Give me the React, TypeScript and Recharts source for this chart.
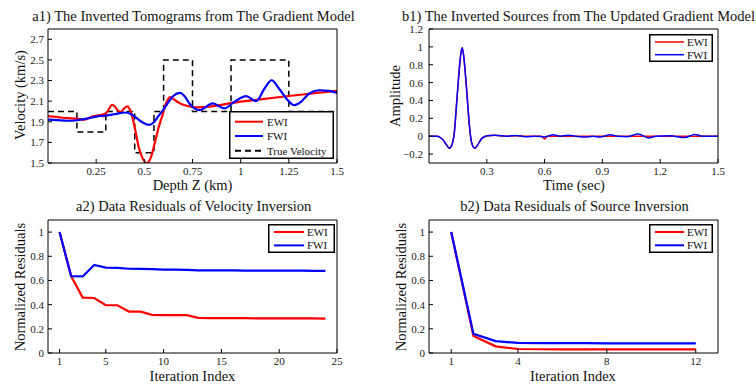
import React from 'react';
import { LineChart, Line, XAxis, YAxis, Legend } from 'recharts';

const FONT = '"Liberation Serif", "Times New Roman", Times, serif';

// ---------- a1) velocity profiles ----------
const trueDepth = [0, 0.15, 0.15, 0.3, 0.3, 0.45, 0.45, 0.55, 0.55, 0.6, 0.6, 0.75, 0.75, 0.95, 0.95, 1.25, 1.25, 1.5];
const trueVel = [2.0, 2.0, 1.8, 1.8, 2.0, 2.0, 1.6, 1.6, 2.0, 2.0, 2.5, 2.5, 2.0, 2.0, 2.5, 2.5, 2.0, 2.0];

const ewiDepth = [0, 0.05, 0.1, 0.15, 0.19, 0.23, 0.27, 0.3, 0.315, 0.333, 0.348, 0.362, 0.378, 0.395, 0.412, 0.427, 0.44, 0.455, 0.47, 0.49, 0.513, 0.535, 0.555, 0.575, 0.595, 0.615, 0.635, 0.655, 0.68, 0.71, 0.745, 0.775, 1.0, 1.25, 1.5];
const ewiVel = [1.955, 1.945, 1.935, 1.93, 1.92, 1.95, 1.965, 1.98, 2.02, 2.065, 2.045, 2.01, 1.995, 2.03, 2.05, 2.01, 1.93, 1.8, 1.66, 1.55, 1.5, 1.56, 1.7, 1.85, 1.97, 2.09, 2.14, 2.115, 2.085, 2.06, 2.045, 2.04, 2.095, 2.15, 2.2];

const fwiDepth = [0, 0.05, 0.1, 0.15, 0.2, 0.25, 0.3, 0.35, 0.4, 0.43, 0.46, 0.49, 0.525, 0.55, 0.575, 0.6, 0.625, 0.65, 0.685, 0.71, 0.735, 0.76, 0.786, 0.855, 0.915, 0.967, 1.028, 1.08, 1.123, 1.161, 1.2, 1.244, 1.279, 1.313, 1.356, 1.408, 1.46, 1.5];
const fwiVel = [1.92, 1.915, 1.91, 1.915, 1.93, 1.95, 1.96, 1.975, 1.99, 1.975, 1.935, 1.895, 1.87, 1.895, 1.96, 2.02, 2.09, 2.15, 2.18, 2.145, 2.075, 2.03, 2.013, 2.078, 2.03, 2.093, 2.148, 2.1, 2.22, 2.303, 2.22, 2.11, 2.061, 2.093, 2.174, 2.206, 2.2, 2.18];

// ---------- b1) source wavelets ----------
const srcTime = [0, 0.042, 0.072, 0.092, 0.106, 0.12, 0.132, 0.14, 0.148, 0.156, 0.164, 0.172, 0.18, 0.188, 0.196, 0.204, 0.212, 0.222, 0.238, 0.252, 0.272, 0.302, 0.34, 0.4, 0.45, 0.5, 0.55, 0.585, 0.6, 0.615, 0.645, 0.68, 0.722, 0.76, 0.81, 0.85, 0.887, 0.94, 0.98, 1.03, 1.086, 1.138, 1.18, 1.25, 1.328, 1.38, 1.42, 1.5];
const srcEwi = [0, 0, -0.04, -0.1, -0.135, -0.09, 0.05, 0.27, 0.5, 0.72, 0.9, 0.99, 0.9, 0.72, 0.5, 0.27, 0.07, -0.08, -0.135, -0.1, -0.03, 0.005, 0.01, 0.0, 0.005, 0.0, 0.0, 0.0, -0.03, 0.0, 0.0, 0.0, 0.0, 0.0, 0.0, 0.0, 0.0, 0.0, 0.0, 0.0, 0.0, 0.0, 0.0, 0.0, 0.0, 0.0, 0.0, 0.0];
const srcFwi = [0, 0, -0.04, -0.1, -0.135, -0.09, 0.05, 0.27, 0.5, 0.72, 0.9, 0.99, 0.9, 0.72, 0.5, 0.27, 0.07, -0.08, -0.135, -0.1, -0.03, 0.005, 0.01, 0.0, 0.008, -0.005, 0.0, -0.005, -0.008, 0.0, 0.015, 0.0, 0.01, 0.0, -0.01, 0.0, -0.01, 0.015, 0.0, -0.005, 0.025, -0.02, 0.0, 0.005, -0.015, 0.02, 0.0, 0.0];

// ---------- a2) velocity inversion residuals ----------
const velIter = [1, 2, 3, 4, 5, 6, 7, 8, 9, 10, 11, 12, 13, 14, 15, 16, 17, 18, 19, 20, 21, 22, 23, 24];
const velEwi = [1.0, 0.636, 0.458, 0.455, 0.396, 0.395, 0.343, 0.342, 0.315, 0.314, 0.314, 0.313, 0.29, 0.289, 0.289, 0.288, 0.288, 0.287, 0.287, 0.287, 0.286, 0.286, 0.286, 0.285];
const velFwi = [1.0, 0.636, 0.633, 0.728, 0.706, 0.704, 0.697, 0.696, 0.694, 0.69, 0.689, 0.688, 0.684, 0.684, 0.683, 0.683, 0.682, 0.682, 0.681, 0.682, 0.681, 0.681, 0.68, 0.68];

// ---------- b2) source inversion residuals ----------
const srcIter = [1, 2, 3, 4, 5, 6, 7, 8, 9, 10, 11, 12];
const srcResEwi = [1.0, 0.14, 0.055, 0.033, 0.031, 0.03, 0.03, 0.03, 0.03, 0.03, 0.03, 0.03];
const srcResFwi = [1.0, 0.158, 0.098, 0.083, 0.082, 0.081, 0.081, 0.08, 0.08, 0.08, 0.08, 0.08];

// ---------- ticks & labels ----------
const a1XTicks = [0.25, 0.5, 0.75, 1, 1.25, 1.5];
const a1YTicks = [1.5, 1.7, 1.9, 2.1, 2.3, 2.5, 2.7];
const b1XTicks = [0.3, 0.6, 0.9, 1.2, 1.5];
const b1YTicks = [-0.2, 0, 0.2, 0.4, 0.6, 0.8, 1, 1.2];
const a2XTicks = [1, 5, 10, 15, 20, 25];
const b2XTicks = [1, 4, 8, 12];
const resYTicks = [0, 0.2, 0.4, 0.6, 0.8, 1];

const legendA1 = [
  { label: 'EWI', color: '#ff0000', dash: undefined },
  { label: 'FWI', color: '#0000ff', dash: undefined },
  { label: 'True Velocity', color: '#000000', dash: '6 4' },
];
const legendEF = [
  { label: 'EWI', color: '#ff0000', dash: undefined },
  { label: 'FWI', color: '#0000ff', dash: undefined },
];

const zip = (xs: number[], vs: number[]) => xs.map((x, i) => ({ x, v: vs[i] }));

const tickStyle = { fontSize: 11, fill: '#1a1a1a', fontFamily: FONT };
const fmt = (v: number) => (v < 0 ? '\u2212' + String(Math.abs(v)) : String(v));

const Txt = ({ cx, cy, size, rotate, children }: any) => (
  <div
    style={{
      position: 'absolute',
      left: cx,
      top: cy,
      transform: `translate(-50%, -50%)${rotate ? ' rotate(-90deg)' : ''}`,
      fontFamily: FONT,
      fontSize: size,
      lineHeight: 1,
      whiteSpace: 'nowrap',
      color: '#111',
    }}
  >
    {children}
  </div>
);

const LegendBox = ({ w, h, items, rows, lx0, lx1, tx, lw }: any) => (
  <svg width={w} height={h} style={{ display: 'block' }}>
    <rect x={0.75} y={0.75} width={w - 1.5} height={h - 1.5} fill="#fff" stroke="#000" strokeWidth={1.5} />
    {items.map((it: any, i: number) => (
      <g key={i}>
        <line x1={lx0} x2={lx1} y1={rows[i]} y2={rows[i]} stroke={it.color} strokeWidth={lw} strokeDasharray={it.dash} />
        <text x={tx} y={rows[i]} dy="0.36em" fontSize={11} fontFamily={FONT} fill="#111">
          {it.label}
        </text>
      </g>
    ))}
  </svg>
);

type PanelProps = {
  left: number;
  top: number;
  width: number;
  height: number;
  margin: any;
  xDomain: number[];
  yDomain: number[];
  xTicks: number[];
  yTicks: number[];
  yTickMargin: number;
  children: any;
  legend: any;
};

const Panel = ({ left, top, width, height, margin, xDomain, yDomain, xTicks, yTicks, yTickMargin, children, legend }: PanelProps) => (
  <div style={{ position: 'absolute', left, top, width, height }}>
    <LineChart width={width} height={height} margin={margin}>
      <XAxis
        xAxisId={0}
        type="number"
        dataKey="x"
        domain={xDomain}
        ticks={xTicks}
        allowDataOverflow
        interval={0}
        tickSize={-4}
        tickMargin={8}
        tick={tickStyle}
        tickFormatter={fmt}
        stroke="#000"
        height={20}
      />
      <XAxis
        xAxisId="top"
        orientation="top"
        type="number"
        dataKey="x"
        domain={xDomain}
        ticks={xTicks}
        allowDataOverflow
        interval={0}
        tickSize={-4}
        tick={false}
        stroke="#000"
        height={5}
      />
      <YAxis
        yAxisId={0}
        type="number"
        domain={yDomain}
        ticks={yTicks}
        allowDataOverflow
        interval={0}
        tickSize={-4}
        tickMargin={yTickMargin}
        tick={tickStyle}
        tickFormatter={fmt}
        stroke="#000"
        width={40}
      />
      <YAxis
        yAxisId="right"
        orientation="right"
        type="number"
        domain={yDomain}
        ticks={yTicks}
        allowDataOverflow
        interval={0}
        tickSize={-4}
        tick={false}
        stroke="#000"
        width={5}
      />
      {children}
      {legend}
    </LineChart>
  </div>
);

export default function App() {
  const a1True = zip(trueDepth, trueVel);
  const a1Ewi = zip(ewiDepth, ewiVel);
  const a1Fwi = zip(fwiDepth, fwiVel);
  const b1Ewi = zip(srcTime, srcEwi);
  const b1Fwi = zip(srcTime, srcFwi);
  const a2Ewi = zip(velIter, velEwi);
  const a2Fwi = zip(velIter, velFwi);
  const b2Ewi = zip(srcIter, srcResEwi);
  const b2Fwi = zip(srcIter, srcResFwi);

  return (
    <div style={{ position: 'absolute', left: 0, top: 0, width: 756, height: 385, background: '#fff', overflow: 'hidden' }}>
      {/* a1 */}
      <Panel
        left={0}
        top={0}
        width={378}
        height={192}
        margin={{ top: 24, right: 36, bottom: 9, left: 8 }}
        xDomain={[0, 1.5]}
        yDomain={[1.5, 2.8]}
        xTicks={a1XTicks}
        yTicks={a1YTicks}
        yTickMargin={8}
        legend={
          <Legend
            layout="vertical"
            verticalAlign="middle"
            align="center"
            wrapperStyle={{ left: 229, top: 111, width: 105, height: 48 }}
            content={() => <LegendBox w={105} h={48} items={legendA1} rows={[10.7, 25, 39.7]} lx0={6} lx1={34} tx={38} lw={2} />}
          />
        }
      >
        <Line data={a1True} dataKey="v" type="linear" stroke="#000" strokeWidth={1.5} strokeDasharray="6 4" dot={false} isAnimationActive={false} />
        <Line data={a1Ewi} dataKey="v" type="monotone" stroke="#ff0000" strokeWidth={2.2} dot={false} isAnimationActive={false} />
        <Line data={a1Fwi} dataKey="v" type="monotone" stroke="#0000ff" strokeWidth={2.2} dot={false} isAnimationActive={false} />
      </Panel>

      {/* b1 */}
      <Panel
        left={378}
        top={0}
        width={378}
        height={192}
        margin={{ top: 24, right: 33, bottom: 9, left: 11 }}
        xDomain={[0, 1.5]}
        yDomain={[-0.3, 1.2]}
        xTicks={b1XTicks}
        yTicks={b1YTicks}
        yTickMargin={10}
        legend={
          <Legend
            layout="vertical"
            verticalAlign="middle"
            align="center"
            wrapperStyle={{ left: 271, top: 34, width: 64, height: 28 }}
            content={() => <LegendBox w={64} h={28} items={legendEF} rows={[8, 20.7]} lx0={6} lx1={35} tx={38} lw={1.5} />}
          />
        }
      >
        <Line data={b1Ewi} dataKey="v" type="monotone" stroke="#ff0000" strokeWidth={1.5} dot={false} isAnimationActive={false} />
        <Line data={b1Fwi} dataKey="v" type="monotone" stroke="#0000ff" strokeWidth={1.5} dot={false} isAnimationActive={false} />
      </Panel>

      {/* a2 */}
      <Panel
        left={0}
        top={192}
        width={378}
        height={193}
        margin={{ top: 23, right: 36, bottom: 12, left: 8 }}
        xDomain={[0, 25]}
        yDomain={[0, 1.1]}
        xTicks={a2XTicks}
        yTicks={resYTicks}
        yTickMargin={8}
        legend={
          <Legend
            layout="vertical"
            verticalAlign="middle"
            align="center"
            wrapperStyle={{ left: 268, top: 32, width: 67, height: 29 }}
            content={() => <LegendBox w={67} h={29} items={legendEF} rows={[8, 21.4]} lx0={6} lx1={36} tx={39} lw={2} />}
          />
        }
      >
        <Line data={a2Ewi} dataKey="v" type="linear" stroke="#ff0000" strokeWidth={2.2} dot={false} isAnimationActive={false} />
        <Line data={a2Fwi} dataKey="v" type="linear" stroke="#0000ff" strokeWidth={2.2} dot={false} isAnimationActive={false} />
      </Panel>

      {/* b2 */}
      <Panel
        left={378}
        top={192}
        width={378}
        height={193}
        margin={{ top: 23, right: 33, bottom: 12, left: 11 }}
        xDomain={[0, 13]}
        yDomain={[0, 1.1]}
        xTicks={b2XTicks}
        yTicks={resYTicks}
        yTickMargin={8}
        legend={
          <Legend
            layout="vertical"
            verticalAlign="middle"
            align="center"
            wrapperStyle={{ left: 271, top: 32, width: 64, height: 29 }}
            content={() => <LegendBox w={64} h={29} items={legendEF} rows={[8, 21.3]} lx0={6} lx1={35} tx={38} lw={2} />}
          />
        }
      >
        <Line data={b2Ewi} dataKey="v" type="linear" stroke="#ff0000" strokeWidth={2.2} dot={false} isAnimationActive={false} />
        <Line data={b2Fwi} dataKey="v" type="linear" stroke="#0000ff" strokeWidth={2.2} dot={false} isAnimationActive={false} />
      </Panel>

      {/* titles */}
      <Txt cx={193.5} cy={15.5} size={14.5}>a1) The Inverted Tomograms from The Gradient Model</Txt>
      <Txt cx={578.5} cy={16} size={14.5}>b1) The Inverted Sources from The Updated Gradient Model</Txt>
      <Txt cx={193.7} cy={206} size={14.5}>a2) Data Residuals of Velocity Inversion</Txt>
      <Txt cx={574.5} cy={206} size={14.5}>b2) Data Residuals of Source Inversion</Txt>

      {/* axis labels */}
      <Txt cx={192.5} cy={184.5} size={14.5}>Depth Z (km)</Txt>
      <Txt cx={574} cy={184.5} size={14.5}>Time (sec)</Txt>
      <Txt cx={192.5} cy={375.5} size={14.5}>Iteration Index</Txt>
      <Txt cx={573} cy={375.5} size={14.5}>Iteration Index</Txt>
      <Txt cx={20} cy={95} size={14.5} rotate>Velocity (km/s)</Txt>
      <Txt cx={395} cy={96} size={14.5} rotate>Amplitude</Txt>
      <Txt cx={19.5} cy={287} size={14.5} rotate>Normalized Residuals</Txt>
      <Txt cx={400.5} cy={287} size={14.5} rotate>Normalized Residuals</Txt>
    </div>
  );
}
